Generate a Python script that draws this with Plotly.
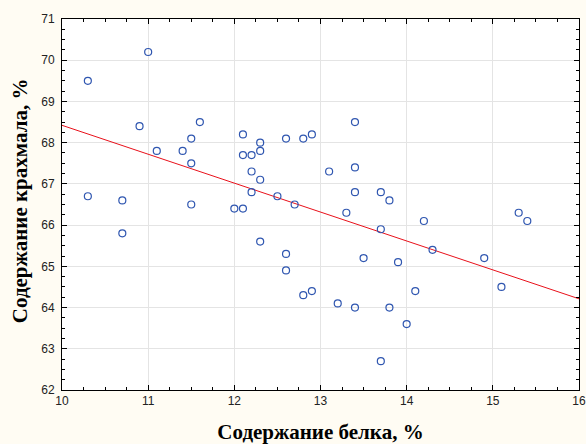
import numpy as np
import plotly.graph_objects as go

protein = [10.3, 11.0, 10.9, 11.6, 11.5, 11.1, 11.4, 11.5, 12.1, 12.1, 12.2, 12.3, 12.3, 12.2,
           12.3, 12.2, 10.3, 10.7, 11.5, 12.0, 12.1, 10.7, 12.3, 13.4, 12.6, 12.8, 12.9, 13.1,
           13.4, 13.4, 13.7, 13.8, 12.5, 12.7, 13.3, 14.2, 13.7, 14.3, 12.6, 13.5, 13.9, 12.6,
           12.8, 12.9, 14.1, 13.2, 13.4, 13.8, 14.0, 13.7, 14.9, 15.1, 15.3, 15.4]
starch = [69.5, 70.2, 68.4, 68.5, 68.1, 67.8, 67.8, 67.5, 68.2, 67.7, 67.7, 68.0, 67.8, 67.3,
          67.1, 66.8, 66.7, 66.6, 66.5, 66.4, 66.4, 65.8, 65.6, 68.5, 68.1, 68.1, 68.2, 67.3,
          67.4, 66.8, 66.8, 66.6, 66.7, 66.5, 66.3, 66.1, 65.9, 65.4, 65.3, 65.2, 65.1, 64.9,
          64.3, 64.4, 64.4, 64.1, 64.0, 64.0, 63.6, 62.7, 65.2, 64.5, 66.3, 66.1]

x_ticks = [10, 11, 12, 13, 14, 15, 16]
y_ticks = [62, 63, 64, 65, 66, 67, 68, 69, 70, 71]
x_title = "Содержание белка, %"
y_title = "Содержание крахмала, %"

slope, intercept = np.polyfit(protein, starch, 1)
line_x = np.array([x_ticks[0], x_ticks[-1]])
line_y = intercept + slope * line_x

fig = go.Figure()
fig.add_trace(go.Scatter(x=line_x, y=line_y, mode="lines",
                         line=dict(color="#E8101A", width=1), showlegend=False, hoverinfo="skip"))
fig.add_trace(go.Scatter(x=protein, y=starch, mode="markers",
                         marker=dict(symbol="circle-open", size=7, color="#2F56B0",
                                     line=dict(width=1.2, color="#2F56B0")),
                         showlegend=False))

axis_common = dict(
    showline=True, linecolor="black", linewidth=1, mirror="allticks",
    ticks="inside", ticklen=5, tickcolor="black", tickwidth=1,
    showgrid=True, gridcolor="#E4E4E4", gridwidth=1, zeroline=False,
    automargin=False,
    tickfont=dict(family="Liberation Sans, Arial", size=12, color="#222222"),
    minor=dict(ticks="inside", ticklen=3, tickcolor="black", dtick=0.25, showgrid=False),
)

title_font = dict(family="Liberation Serif, Times New Roman", size=21, color="black", weight="bold")

fig.update_layout(
    width=586, height=444,
    margin=dict(l=62, r=7, t=19, b=54),
    paper_bgcolor="#FFFCF3", plot_bgcolor="white",
    xaxis=dict(range=[10, 16], tickvals=x_ticks, **axis_common,
               title=dict(text=x_title, standoff=16, font=title_font)),
    yaxis=dict(range=[62, 71], tickvals=y_ticks, **axis_common, ticklabelstandoff=4),
    annotations=[dict(text=y_title, xref="paper", yref="paper", x=0, y=0.509,
                      xanchor="center", yanchor="middle", xshift=-42, textangle=-90,
                      showarrow=False, font=title_font)],
)

fig.write_html("out.html", config={"displayModeBar": False},
               post_script="document.body.style.margin='0';document.body.style.background='#FFFCF3';")
